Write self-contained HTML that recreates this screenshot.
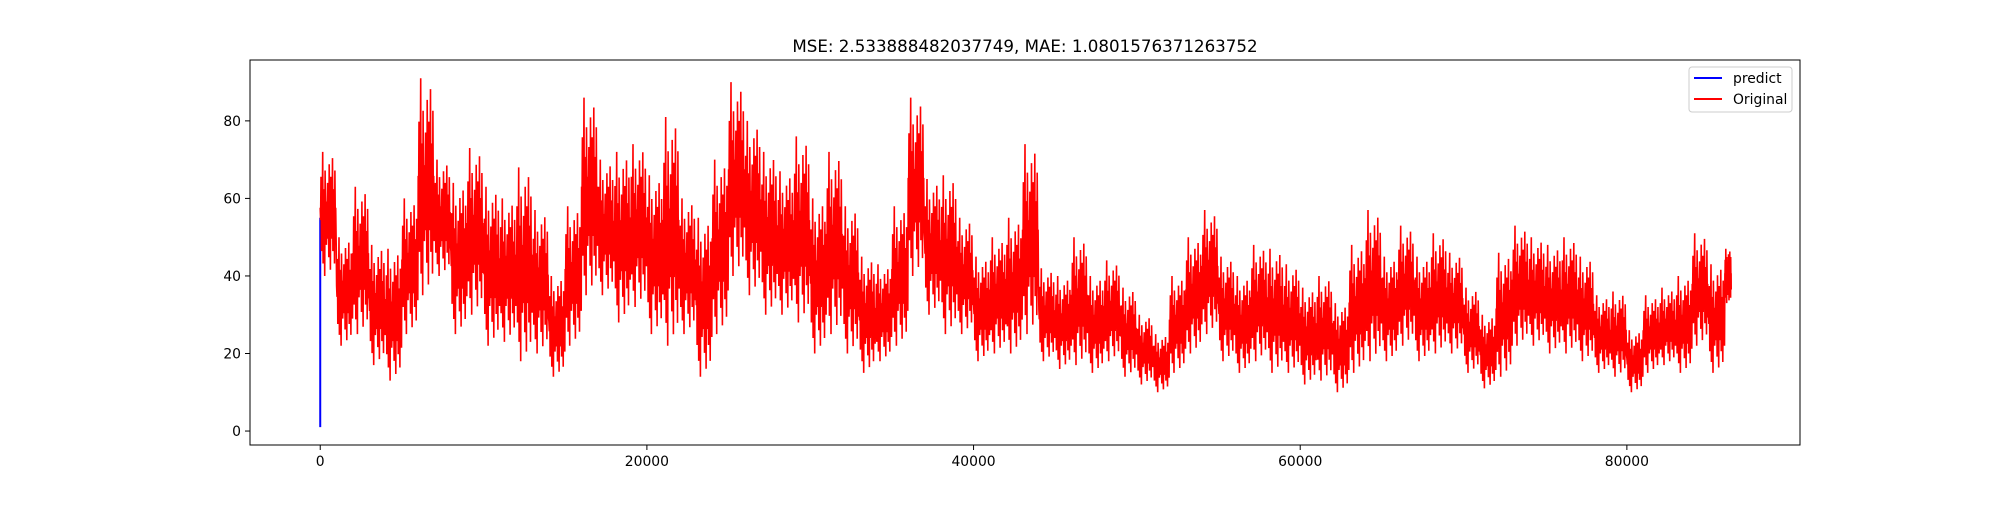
<!DOCTYPE html>
<html><head><meta charset="utf-8"><style>
body{margin:0;background:#fff;}
svg text{font-family:"DejaVu Sans","Liberation Sans",sans-serif;fill:#000;}
</style></head><body>
<svg id="chart" width="2000" height="500" xmlns="http://www.w3.org/2000/svg">
<rect x="0" y="0" width="2000" height="500" fill="#fff"/>
<text x="1025" y="52" font-size="16.7" text-anchor="middle">MSE: 2.533888482037749, MAE: 1.0801576371263752</text>
<g id="marks"></g>
<g id="axes"></g>
<g>
<rect x="1689" y="67" width="103" height="45" rx="3" fill="#fff" fill-opacity="0.8" stroke="#ccc"/>
<line x1="1694" y1="78" x2="1722" y2="78" stroke="blue" stroke-width="2"/>
<text x="1733" y="83" font-size="13.9">predict</text>
<line x1="1694" y1="99" x2="1722" y2="99" stroke="red" stroke-width="2"/>
<text x="1733" y="104" font-size="13.9">Original</text>
</g>
</svg>
<script>
const xTicks=[0,20000,40000,60000,80000];
const yTicks=[0,20,40,60,80];
const bucketStarts=[0,1000,2000,3000,4000,5000,6000,7000,8000,9000,10000,11000,12000,13000,14000,15000,16000,17000,18000,19000,20000,21000,22000,23000,24000,25000,26000,27000,28000,29000,30000,31000,32000,33000,34000,35000,36000,37000,38000,39000,40000,41000,42000,43000,44000,45000,46000,47000,48000,49000,50000,51000,52000,53000,54000,55000,56000,57000,58000,59000,60000,61000,62000,63000,64000,65000,66000,67000,68000,69000,70000,71000,72000,73000,74000,75000,76000,77000,78000,79000,80000,81000,82000,83000,84000,85000,86000];
const originalMax=[72,50,63,48,47,60,91,70,64,73,63,60,68,57,40,58,86,70,72,74,66,81,60,55,70,90,80,72,67,76,60,72,58,45,43,58,86,65,66,55,45,50,55,74,42,40,50,40,44,37,30,25,40,50,57,45,40,48,47,43,37,40,33,48,57,45,53,45,51,46,37,30,46,53,50,48,50,45,35,36,26,35,37,40,51,43,47];
const originalMin=[40,22,25,17,13,25,35,40,25,30,22,23,18,20,14,22,35,35,28,32,25,22,25,14,25,40,35,30,30,28,20,25,20,15,18,22,40,30,25,25,18,20,20,25,18,16,17,15,18,14,12,10,15,20,25,18,15,18,15,15,12,13,10,15,18,18,22,18,20,20,15,11,14,22,22,20,20,18,15,14,10,15,17,15,22,15,33];
const predictX=[0,0];
const predictY=[1,55];

const L=250,R=1800,T=60,B=445;
const xMin=-4300,xMax=90600,yMin=-3.6,yMax=95.7;
const sx=v=>L+(v-xMin)/(xMax-xMin)*(R-L);
const sy=v=>B-(v-yMin)/(yMax-yMin)*(B-T);
const NS="http://www.w3.org/2000/svg";
const marks=document.getElementById('marks');
const axes=document.getElementById('axes');

// fixed within-bucket swing shape (fraction of range reached), not data
const hiShape=[0.55,0.8,0.45,1.0,0.7,0.5,0.85,0.6,0.4,0.75,0.65,0.9,0.5,0.8,0.6,0.95,0.45,0.7,0.85,0.55];
const loShape=[0.45,0.2,0.6,0.1,0.35,0.0,0.5,0.25,0.55,0.3,0.15,0.4,0.05,0.3,0.5,0.2,0.35,0.1,0.45,0.25];
let pts=[];
const osc=hiShape.length;
const n=bucketStarts.length;
for(let i=0;i<n;i++){
  const span=i+1<n?1000:400;
  for(let k=0;k<osc;k++){
    const x0=bucketStarts[i]+k/osc*span;
    const lo=originalMin[i],hi=originalMax[i];
    pts.push(sx(x0).toFixed(1)+','+sy(lo+(hi-lo)*hiShape[k]).toFixed(1));
    pts.push(sx(x0+span/osc/2).toFixed(1)+','+sy(lo+(hi-lo)*loShape[k]).toFixed(1));
  }
}
const orig=document.createElementNS(NS,'polyline');


orig.setAttribute('points',pts.join(' '));
orig.setAttribute('fill','none');orig.setAttribute('stroke','red');orig.setAttribute('stroke-width','1.6');
marks.appendChild(orig);

const pred=document.createElementNS(NS,'polyline');


pred.setAttribute('points',predictX.map((x,i)=>sx(x)+','+sy(predictY[i])).join(' '));
pred.setAttribute('fill','none');pred.setAttribute('stroke','blue');pred.setAttribute('stroke-width','2');
marks.insertBefore(pred,orig);

const frame=document.createElementNS(NS,'rect');


frame.setAttribute('x',L);frame.setAttribute('y',T);frame.setAttribute('width',R-L);frame.setAttribute('height',B-T);
frame.setAttribute('fill','none');frame.setAttribute('stroke','#000');frame.setAttribute('stroke-width','1');
axes.appendChild(frame);

xTicks.forEach(v=>{
  const x=sx(v);
  const t=document.createElementNS(NS,'line');
  
  
  t.setAttribute('x1',x);t.setAttribute('x2',x);t.setAttribute('y1',B);t.setAttribute('y2',B+5);t.setAttribute('stroke','#000');
  axes.appendChild(t);
  const l=document.createElementNS(NS,'text');
  
  
  l.setAttribute('x',x);l.setAttribute('y',B+21);l.setAttribute('font-size','13.9');l.setAttribute('text-anchor','middle');
  l.textContent=v;axes.appendChild(l);
});
yTicks.forEach(v=>{
  const y=sy(v);
  const t=document.createElementNS(NS,'line');
  
  
  t.setAttribute('x1',L-5);t.setAttribute('x2',L);t.setAttribute('y1',y);t.setAttribute('y2',y);t.setAttribute('stroke','#000');
  axes.appendChild(t);
  const l=document.createElementNS(NS,'text');
  
  
  l.setAttribute('x',L-9);l.setAttribute('y',y+5);l.setAttribute('font-size','13.9');l.setAttribute('text-anchor','end');
  l.textContent=v;axes.appendChild(l);
});
</script>
</body></html>
